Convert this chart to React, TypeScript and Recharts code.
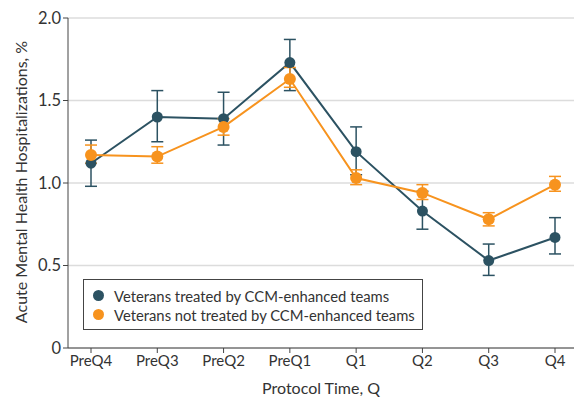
import React from "react"
import {
  LineChart,
  Line,
  XAxis,
  YAxis,
  CartesianGrid,
  ErrorBar,
  Legend
} from "recharts"

const quarters = ["PreQ4", "PreQ3", "PreQ2", "PreQ1", "Q1", "Q2", "Q3", "Q4"]

// treated by CCM-enhanced teams
const ccmRate = [1.12, 1.4, 1.39, 1.73, 1.19, 0.83, 0.53, 0.67]
const ccmLow = [0.98, 1.25, 1.23, 1.56, 1.05, 0.72, 0.44, 0.57]
const ccmHigh = [1.26, 1.56, 1.55, 1.87, 1.34, 0.95, 0.63, 0.79]

// not treated by CCM-enhanced teams
const otherRate = [1.17, 1.16, 1.34, 1.63, 1.03, 0.94, 0.78, 0.99]
const otherLow = [1.12, 1.12, 1.29, 1.58, 0.99, 0.9, 0.74, 0.95]
const otherHigh = [1.23, 1.22, 1.39, 1.7, 1.08, 0.99, 0.82, 1.04]

const yTicks = [0, 0.5, 1.0, 1.5, 2.0]

const DARK = "#2c5262"
const ORANGE = "#f7931e"
const FONT = "Lato, sans-serif"

const data = quarters.map((q, i) => ({
  q,
  ccm: ccmRate[i],
  ccmErr: [ccmRate[i] - ccmLow[i], ccmHigh[i] - ccmRate[i]],
  other: otherRate[i],
  otherErr: [otherRate[i] - otherLow[i], otherHigh[i] - otherRate[i]]
}))

const YLabel = ({ viewBox }: any) => {
  const cx = 20
  const cy = viewBox.y + viewBox.height / 2 - 1
  return (
    <text
      x={cx}
      y={cy}
      transform={`rotate(-90 ${cx} ${cy})`}
      textAnchor="middle"
      dominantBaseline="central"
      fill="#333"
      fontSize={16}
      fontFamily={FONT}
    >
      Acute Mental Health Hospitalizations, %
    </text>
  )
}

const LegendBox = () => {
  const items = [
    { label: "Veterans treated by CCM-enhanced teams", color: DARK },
    { label: "Veterans not treated by CCM-enhanced teams", color: ORANGE }
  ]
  return (
    <div
      style={{
        border: "1px solid #444",
        width: 338,
        height: 49,
        boxSizing: "content-box",
        padding: 0,
        fontFamily: FONT,
        fontSize: 14.8,
        color: "#333"
      }}
    >
      {items.map((it, i) => (
        <div
          key={i}
          style={{ display: "flex", alignItems: "center", height: 19, marginTop: i === 0 ? 6 : 0 }}
        >
          <span
            style={{
              display: "inline-block",
              width: 11,
              height: 11,
              borderRadius: "50%",
              background: it.color,
              marginLeft: 9,
              marginRight: 10
            }}
          />
          <span>{it.label}</span>
        </div>
      ))}
    </div>
  )
}

export default function App() {
  return (
    <div style={{ position: "absolute", left: 0, top: 0, background: "#fff" }}>
      <LineChart
        width={574}
        height={398}
        data={data}
        margin={{ top: 18, right: 0, bottom: 0, left: 0 }}
      >
        <CartesianGrid vertical={false} stroke="#dcdcdc" strokeWidth={1.5} />
        <XAxis
          dataKey="q"
          padding={{ left: 23, right: 19 }}
          height={50}
          stroke="#444"
          tickSize={5}
          tick={{ fill: "#333", fontSize: 15, fontFamily: FONT }}
          label={{
            value: "Protocol Time, Q",
            position: "insideBottom",
            offset: 4,
            fill: "#333",
            fontSize: 16,
            fontFamily: FONT
          }}
        />
        <YAxis
          domain={[0, 2]}
          ticks={yTicks}
          width={68}
          stroke="#444"
          tickSize={5}
          tickFormatter={(v: number) => (v === 0 ? "0" : v.toFixed(1))}
          tick={{ fill: "#333", fontSize: 16.5, fontFamily: FONT }}
          label={<YLabel />}
        />
        <Legend
          layout="vertical"
          align="center"
          verticalAlign="middle"
          wrapperStyle={{ left: 83, top: 279, width: 340 }}
          content={<LegendBox />}
        />
        <Line
          dataKey="ccm"
          stroke={DARK}
          strokeWidth={2}
          dot={{ r: 5.5, fill: DARK, stroke: DARK, strokeWidth: 0 }}
          activeDot={false}
          isAnimationActive={false}
        >
          <ErrorBar dataKey="ccmErr" width={6} stroke={DARK} strokeWidth={1.5} />
        </Line>
        <Line
          dataKey="other"
          stroke={ORANGE}
          strokeWidth={2}
          dot={{ r: 6, fill: ORANGE, stroke: ORANGE, strokeWidth: 0 }}
          activeDot={false}
          isAnimationActive={false}
        >
          <ErrorBar dataKey="otherErr" width={6} stroke={ORANGE} strokeWidth={1.5} />
        </Line>
      </LineChart>
    </div>
  )
}
